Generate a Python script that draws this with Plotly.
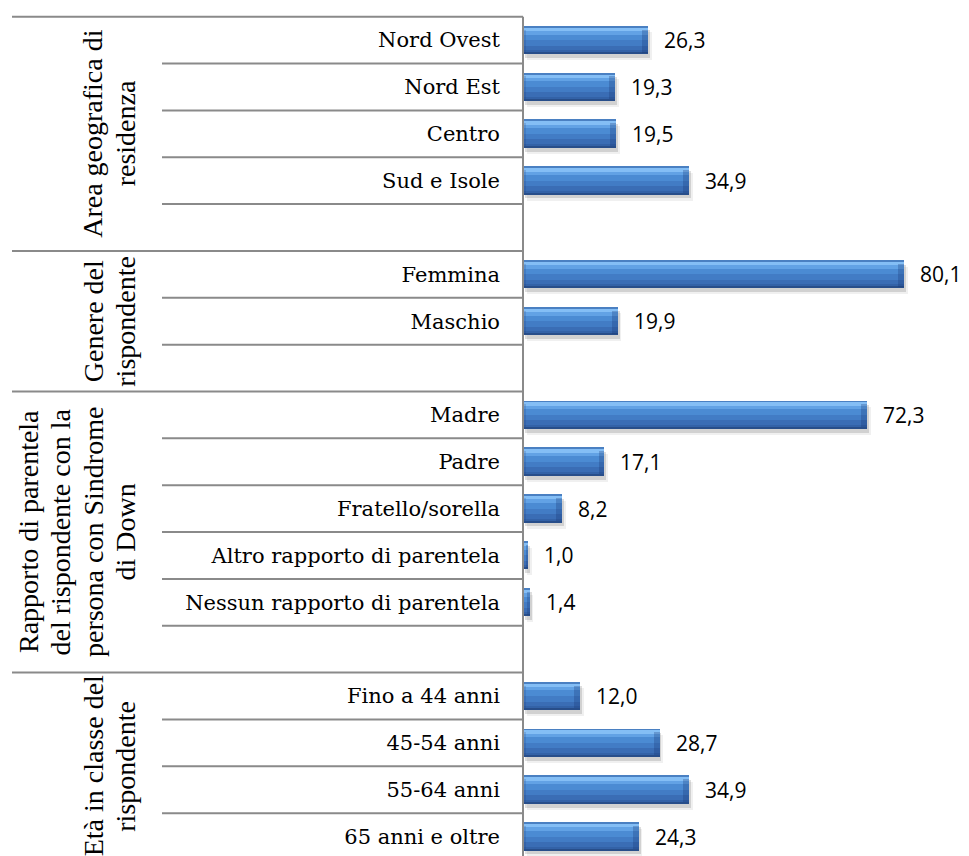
import plotly.graph_objects as go

# ---- data -------------------------------------------------------------
group_titles = [
    ["Area geografica di", "residenza"],
    ["Genere del", "rispondente"],
    ["Rapporto di parentela", "del rispondente con la",
     "persona con Sindrome", "di Down"],
    ["Età in classe del", "rispondente"],
]
area_labels = ["Nord Ovest", "Nord Est", "Centro", "Sud e Isole"]
area_values = [26.3, 19.3, 19.5, 34.9]
genere_labels = ["Femmina", "Maschio"]
genere_values = [80.1, 19.9]
rapporto_labels = ["Madre", "Padre", "Fratello/sorella",
                   "Altro rapporto di parentela", "Nessun rapporto di parentela"]
rapporto_values = [72.3, 17.1, 8.2, 1.0, 1.4]
eta_labels = ["Fino a 44 anni", "45-54 anni", "55-64 anni", "65 anni e oltre"]
eta_values = [12.0, 28.7, 34.9, 24.3]

groups = [
    (group_titles[0], area_labels, area_values),
    (group_titles[1], genere_labels, genere_values),
    (group_titles[2], rapporto_labels, rapporto_values),
    (group_titles[3], eta_labels, eta_values),
]

# ---- row layout: one spacer row after every group except the last ------
rows, labels, values = [], [], []
group_spans = []          # (first row, last row incl. spacer)
r = 0
for gi, (title, labs, vals) in enumerate(groups):
    start = r
    for lab, v in zip(labs, vals):
        rows.append(r)
        labels.append(lab)
        values.append(v)
        r += 1
    if gi < len(groups) - 1:
        r += 1
    group_spans.append((start, r - 1))
n_rows = r

# ---- page geometry ------------------------------------------------------
W, H = 969, 856
PLOT_LEFT = 523          # pixel x of the value axis
PX_PER_UNIT = 4.757
ROW_PX = 46.85
TOP_PAD = 0.1            # rows of air above the first grid line
MARGIN_T = 12
x_max = (W - PLOT_LEFT) / PX_PER_UNIT
y_bottom = -0.5 - TOP_PAD + (H - MARGIN_T) / ROW_PX


def px_to_paper_x(px):
    return (px - PLOT_LEFT) / (W - PLOT_LEFT)


fig = go.Figure()

BAR_W = 0.59

# soft drop shadow under each bar
for shift, dy, col in [(0.8, 0.13, "rgba(0,0,0,0.06)"),
                       (0.4, 0.085, "rgba(0,0,0,0.13)")]:
    fig.add_trace(go.Bar(
        x=values, y=rows, base=shift, orientation="h",
        width=BAR_W, offset=-BAR_W / 2 + dy,
        marker=dict(color=col, line=dict(width=0)),
        hoverinfo="skip", showlegend=False))

# glossy blue bars built from horizontal colour bands
bands = [
    (0.00, 0.05, "#4a80c2"),
    (0.05, 0.17, "#84bef5"),
    (0.17, 0.30, "#62a2e5"),
    (0.30, 0.50, "#4b8bd3"),
    (0.50, 0.70, "#427cc5"),
    (0.70, 0.86, "#3a6db5"),
    (0.86, 0.95, "#3362a7"),
    (0.95, 1.00, "#284e8a"),
]
for f0, f1, col in bands:
    fig.add_trace(go.Bar(
        x=values, y=rows, orientation="h",
        width=(f1 - f0) * BAR_W, offset=-BAR_W / 2 + f0 * BAR_W,
        marker=dict(color=col, line=dict(width=0)),
        hoverinfo="skip", showlegend=False))

# bevelled end caps (slightly darker strips at both bar ends)
CAP = 1.2
caps = [min(CAP, v / 3) for v in values]
cap_off = -BAR_W / 2 + 0.12 * BAR_W
cap_w = 0.83 * BAR_W
fig.add_trace(go.Bar(
    x=caps, y=rows, base=[v - c for v, c in zip(values, caps)],
    orientation="h", width=cap_w, offset=cap_off,
    marker=dict(color="rgba(25,55,115,0.28)", line=dict(width=0)),
    hoverinfo="skip", showlegend=False))
fig.add_trace(go.Bar(
    x=[c * 0.6 for c in caps], y=rows, base=0,
    orientation="h", width=cap_w, offset=cap_off,
    marker=dict(color="rgba(25,55,115,0.18)", line=dict(width=0)),
    hoverinfo="skip", showlegend=False))

# value labels
for v, yy in zip(values, rows):
    fig.add_annotation(
        x=v, y=yy, xref="x", yref="y",
        text=f"{v:.1f}".replace(".", ","),
        showarrow=False, xanchor="left", yanchor="middle", xshift=14,
        font=dict(family="Open Sans", size=21, color="#000000"))

# grid lines of the category table
LINE_COL = "#8a8a8a"
group_starts = {s for s, _ in group_spans}
for k in range(n_rows):
    x0 = px_to_paper_x(12) if k in group_starts else px_to_paper_x(162)
    fig.add_shape(type="line", xref="paper", yref="y",
                  x0=x0, x1=0, y0=k - 0.5, y1=k - 0.5,
                  line=dict(color=LINE_COL, width=2), layer="above")
fig.add_shape(type="line", xref="paper", yref="y",
              x0=0, x1=0, y0=-0.5, y1=n_rows - 0.5,
              line=dict(color=LINE_COL, width=2), layer="above")

# rotated group titles, one annotation per text line
LINE_GAP = 32.5
for (title, _, _), (s, e) in zip(groups, group_spans):
    n = len(title)
    for i, line in enumerate(title):
        fig.add_annotation(
            x=px_to_paper_x(142), y=(s + e) / 2, xref="paper", yref="y",
            xshift=-(n - 1 - i) * LINE_GAP,
            text=line, textangle=-90, showarrow=False,
            xanchor="right", yanchor="middle", borderpad=0,
            font=dict(family="Liberation Serif", size=28, color="#000000"))

fig.update_layout(
    width=W, height=H,
    margin=dict(l=PLOT_LEFT, r=0, t=MARGIN_T, b=0, autoexpand=False),
    barmode="overlay",
    bargap=0,
    plot_bgcolor="white", paper_bgcolor="white",
    showlegend=False,
    xaxis=dict(range=[0, x_max], visible=False, fixedrange=True),
    yaxis=dict(
        range=[y_bottom, -0.5 - TOP_PAD],
        tickmode="array", tickvals=rows, ticktext=labels,
        ticks="", showgrid=False, zeroline=False, showline=False,
        ticklabelstandoff=22,
        tickfont=dict(family="DejaVu Serif", size=21, color="#000000"),
        fixedrange=True),
)

fig.write_html("out.html")
